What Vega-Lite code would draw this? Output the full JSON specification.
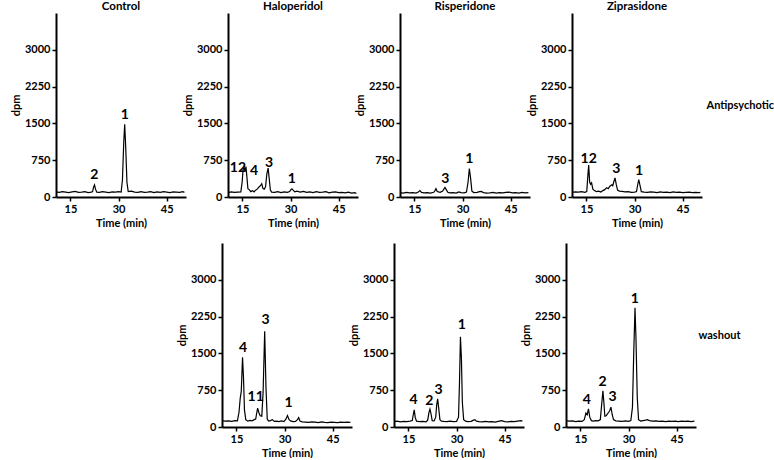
{
  "$schema": "https://vega.github.io/schema/vega-lite/v6.json",
  "description": "Radio-HPLC traces (dpm vs retention time) for control and antipsychotic-treated samples, with and without washout",
  "background": "white",
  "padding": {"left": 10, "top": 0, "right": 0, "bottom": 0},
  "data": {
    "values": [
      {"d":"C","c":"A","t":10.5,"v":105},{"d":"C","c":"A","t":11.5,"v":95},{"d":"C","c":"A","t":12.5,"v":110},{"d":"C","c":"A","t":13.5,"v":100},
      {"d":"C","c":"A","t":14.5,"v":90},{"d":"C","c":"A","t":15.5,"v":105},{"d":"C","c":"A","t":16.5,"v":115},{"d":"C","c":"A","t":17.5,"v":95},
      {"d":"C","c":"A","t":18.5,"v":100},{"d":"C","c":"A","t":19.5,"v":110},{"d":"C","c":"A","t":20.5,"v":90},{"d":"C","c":"A","t":21.5,"v":100},
      {"d":"C","c":"A","t":21.9,"v":110},{"d":"C","c":"A","t":22.2,"v":200},{"d":"C","c":"A","t":22.5,"v":245},{"d":"C","c":"A","t":22.8,"v":160},
      {"d":"C","c":"A","t":23.2,"v":100},{"d":"C","c":"A","t":24.0,"v":95},{"d":"C","c":"A","t":25.0,"v":110},{"d":"C","c":"A","t":26.0,"v":100},
      {"d":"C","c":"A","t":27.0,"v":90},{"d":"C","c":"A","t":28.0,"v":105},{"d":"C","c":"A","t":29.0,"v":100},{"d":"C","c":"A","t":30.0,"v":110},
      {"d":"C","c":"A","t":30.8,"v":100},{"d":"C","c":"A","t":31.2,"v":350},{"d":"C","c":"A","t":31.6,"v":1100},{"d":"C","c":"A","t":31.9,"v":1480},
      {"d":"C","c":"A","t":32.2,"v":1050},{"d":"C","c":"A","t":32.6,"v":300},{"d":"C","c":"A","t":33.0,"v":110},{"d":"C","c":"A","t":34.0,"v":120},
      {"d":"C","c":"A","t":35.0,"v":100},{"d":"C","c":"A","t":36.0,"v":95},{"d":"C","c":"A","t":37.0,"v":110},{"d":"C","c":"A","t":38.0,"v":95},
      {"d":"C","c":"A","t":39.0,"v":100},{"d":"C","c":"A","t":40.0,"v":110},{"d":"C","c":"A","t":41.0,"v":90},{"d":"C","c":"A","t":42.0,"v":105},
      {"d":"C","c":"A","t":43.0,"v":95},{"d":"C","c":"A","t":44.0,"v":110},{"d":"C","c":"A","t":45.0,"v":100},{"d":"C","c":"A","t":46.0,"v":90},
      {"d":"C","c":"A","t":47.0,"v":105},{"d":"C","c":"A","t":48.0,"v":100},{"d":"C","c":"A","t":49.0,"v":95},{"d":"C","c":"A","t":50.0,"v":110},
      {"d":"C","c":"A","t":50.5,"v":95},

      {"d":"H","c":"A","t":10.5,"v":90},{"d":"H","c":"A","t":11.5,"v":105},{"d":"H","c":"A","t":12.5,"v":95},{"d":"H","c":"A","t":13.5,"v":100},
      {"d":"H","c":"A","t":14.5,"v":105},{"d":"H","c":"A","t":14.9,"v":300},{"d":"H","c":"A","t":15.2,"v":560},{"d":"H","c":"A","t":15.5,"v":610},
      {"d":"H","c":"A","t":15.8,"v":520},{"d":"H","c":"A","t":16.1,"v":620},{"d":"H","c":"A","t":16.4,"v":400},{"d":"H","c":"A","t":16.7,"v":170},
      {"d":"H","c":"A","t":17.1,"v":150},{"d":"H","c":"A","t":17.6,"v":110},{"d":"H","c":"A","t":18.1,"v":130},{"d":"H","c":"A","t":18.6,"v":105},
      {"d":"H","c":"A","t":19.1,"v":140},{"d":"H","c":"A","t":19.6,"v":160},{"d":"H","c":"A","t":20.1,"v":200},{"d":"H","c":"A","t":20.6,"v":230},
      {"d":"H","c":"A","t":21.0,"v":270},{"d":"H","c":"A","t":21.4,"v":170},{"d":"H","c":"A","t":21.8,"v":160},{"d":"H","c":"A","t":22.2,"v":210},
      {"d":"H","c":"A","t":22.6,"v":470},{"d":"H","c":"A","t":23.0,"v":590},{"d":"H","c":"A","t":23.3,"v":400},{"d":"H","c":"A","t":23.7,"v":140},
      {"d":"H","c":"A","t":24.1,"v":100},{"d":"H","c":"A","t":25.0,"v":95},{"d":"H","c":"A","t":26.0,"v":110},{"d":"H","c":"A","t":27.0,"v":90},
      {"d":"H","c":"A","t":28.0,"v":105},{"d":"H","c":"A","t":29.0,"v":95},{"d":"H","c":"A","t":29.7,"v":110},{"d":"H","c":"A","t":30.1,"v":150},
      {"d":"H","c":"A","t":30.4,"v":165},{"d":"H","c":"A","t":30.8,"v":140},{"d":"H","c":"A","t":31.3,"v":105},{"d":"H","c":"A","t":32.0,"v":120},
      {"d":"H","c":"A","t":33.0,"v":100},{"d":"H","c":"A","t":34.0,"v":115},{"d":"H","c":"A","t":35.0,"v":95},{"d":"H","c":"A","t":36.0,"v":105},
      {"d":"H","c":"A","t":37.0,"v":90},{"d":"H","c":"A","t":38.0,"v":110},{"d":"H","c":"A","t":39.0,"v":95},{"d":"H","c":"A","t":40.0,"v":100},
      {"d":"H","c":"A","t":41.0,"v":110},{"d":"H","c":"A","t":42.0,"v":85},{"d":"H","c":"A","t":43.0,"v":100},{"d":"H","c":"A","t":44.0,"v":105},
      {"d":"H","c":"A","t":45.0,"v":90},{"d":"H","c":"A","t":46.0,"v":95},{"d":"H","c":"A","t":47.0,"v":85},{"d":"H","c":"A","t":48.0,"v":100},
      {"d":"H","c":"A","t":49.0,"v":80},{"d":"H","c":"A","t":50.0,"v":90},{"d":"H","c":"A","t":50.5,"v":70},

      {"d":"R","c":"A","t":10.5,"v":90},{"d":"R","c":"A","t":11.5,"v":80},{"d":"R","c":"A","t":12.5,"v":95},{"d":"R","c":"A","t":13.5,"v":85},
      {"d":"R","c":"A","t":14.5,"v":90},{"d":"R","c":"A","t":15.5,"v":80},{"d":"R","c":"A","t":16.2,"v":100},{"d":"R","c":"A","t":16.7,"v":130},
      {"d":"R","c":"A","t":17.2,"v":95},{"d":"R","c":"A","t":18.0,"v":85},{"d":"R","c":"A","t":19.0,"v":90},{"d":"R","c":"A","t":20.0,"v":80},
      {"d":"R","c":"A","t":21.0,"v":95},{"d":"R","c":"A","t":21.4,"v":130},{"d":"R","c":"A","t":21.7,"v":170},{"d":"R","c":"A","t":22.1,"v":110},
      {"d":"R","c":"A","t":23.0,"v":95},{"d":"R","c":"A","t":23.8,"v":120},{"d":"R","c":"A","t":24.5,"v":195},{"d":"R","c":"A","t":24.9,"v":150},
      {"d":"R","c":"A","t":25.4,"v":95},{"d":"R","c":"A","t":26.0,"v":85},{"d":"R","c":"A","t":27.0,"v":90},{"d":"R","c":"A","t":28.0,"v":80},
      {"d":"R","c":"A","t":28.8,"v":105},{"d":"R","c":"A","t":29.5,"v":90},{"d":"R","c":"A","t":30.5,"v":85},{"d":"R","c":"A","t":31.2,"v":100},
      {"d":"R","c":"A","t":31.7,"v":300},{"d":"R","c":"A","t":32.1,"v":580},{"d":"R","c":"A","t":32.5,"v":380},{"d":"R","c":"A","t":32.9,"v":120},
      {"d":"R","c":"A","t":33.5,"v":90},{"d":"R","c":"A","t":34.5,"v":95},{"d":"R","c":"A","t":35.3,"v":110},{"d":"R","c":"A","t":35.8,"v":115},
      {"d":"R","c":"A","t":36.5,"v":90},{"d":"R","c":"A","t":37.5,"v":80},{"d":"R","c":"A","t":38.5,"v":85},{"d":"R","c":"A","t":39.5,"v":95},
      {"d":"R","c":"A","t":40.5,"v":80},{"d":"R","c":"A","t":41.5,"v":90},{"d":"R","c":"A","t":42.5,"v":85},{"d":"R","c":"A","t":43.5,"v":95},
      {"d":"R","c":"A","t":44.5,"v":100},{"d":"R","c":"A","t":45.5,"v":85},{"d":"R","c":"A","t":46.5,"v":90},{"d":"R","c":"A","t":47.5,"v":80},
      {"d":"R","c":"A","t":48.5,"v":95},{"d":"R","c":"A","t":49.5,"v":85},{"d":"R","c":"A","t":50.5,"v":90},

      {"d":"Z","c":"A","t":10.5,"v":95},{"d":"Z","c":"A","t":11.5,"v":105},{"d":"Z","c":"A","t":12.5,"v":100},{"d":"Z","c":"A","t":13.5,"v":110},
      {"d":"Z","c":"A","t":14.5,"v":95},{"d":"Z","c":"A","t":15.1,"v":110},{"d":"Z","c":"A","t":15.4,"v":400},{"d":"Z","c":"A","t":15.7,"v":650},
      {"d":"Z","c":"A","t":16.0,"v":300},{"d":"Z","c":"A","t":16.3,"v":260},{"d":"Z","c":"A","t":16.6,"v":290},{"d":"Z","c":"A","t":17.0,"v":160},
      {"d":"Z","c":"A","t":17.5,"v":130},{"d":"Z","c":"A","t":18.1,"v":110},{"d":"Z","c":"A","t":18.8,"v":120},{"d":"Z","c":"A","t":19.5,"v":100},
      {"d":"Z","c":"A","t":20.1,"v":130},{"d":"Z","c":"A","t":20.7,"v":150},{"d":"Z","c":"A","t":21.3,"v":190},{"d":"Z","c":"A","t":21.8,"v":170},
      {"d":"Z","c":"A","t":22.3,"v":220},{"d":"Z","c":"A","t":22.9,"v":250},{"d":"Z","c":"A","t":23.2,"v":230},{"d":"Z","c":"A","t":23.6,"v":330},
      {"d":"Z","c":"A","t":23.9,"v":390},{"d":"Z","c":"A","t":24.3,"v":250},{"d":"Z","c":"A","t":24.7,"v":140},{"d":"Z","c":"A","t":25.3,"v":120},
      {"d":"Z","c":"A","t":26.1,"v":115},{"d":"Z","c":"A","t":27.0,"v":105},{"d":"Z","c":"A","t":28.0,"v":110},{"d":"Z","c":"A","t":29.0,"v":95},
      {"d":"Z","c":"A","t":30.0,"v":100},{"d":"Z","c":"A","t":30.6,"v":110},{"d":"Z","c":"A","t":31.0,"v":260},{"d":"Z","c":"A","t":31.3,"v":355},
      {"d":"Z","c":"A","t":31.7,"v":230},{"d":"Z","c":"A","t":32.1,"v":110},{"d":"Z","c":"A","t":33.0,"v":100},{"d":"Z","c":"A","t":34.0,"v":95},
      {"d":"Z","c":"A","t":35.0,"v":105},{"d":"Z","c":"A","t":36.0,"v":100},{"d":"Z","c":"A","t":37.0,"v":90},{"d":"Z","c":"A","t":38.0,"v":105},
      {"d":"Z","c":"A","t":39.0,"v":95},{"d":"Z","c":"A","t":40.0,"v":100},{"d":"Z","c":"A","t":41.0,"v":90},{"d":"Z","c":"A","t":42.0,"v":105},
      {"d":"Z","c":"A","t":43.0,"v":95},{"d":"Z","c":"A","t":44.0,"v":100},{"d":"Z","c":"A","t":45.0,"v":90},{"d":"Z","c":"A","t":46.0,"v":95},
      {"d":"Z","c":"A","t":47.0,"v":100},{"d":"Z","c":"A","t":48.0,"v":90},{"d":"Z","c":"A","t":49.0,"v":95},{"d":"Z","c":"A","t":50.0,"v":90},
      {"d":"Z","c":"A","t":50.5,"v":95},

      {"d":"H","c":"W","t":10.5,"v":130},{"d":"H","c":"W","t":11.5,"v":120},{"d":"H","c":"W","t":12.5,"v":125},{"d":"H","c":"W","t":13.5,"v":115},
      {"d":"H","c":"W","t":14.5,"v":130},{"d":"H","c":"W","t":15.3,"v":125},{"d":"H","c":"W","t":15.8,"v":300},{"d":"H","c":"W","t":16.2,"v":600},
      {"d":"H","c":"W","t":16.5,"v":720},{"d":"H","c":"W","t":16.9,"v":1420},{"d":"H","c":"W","t":17.2,"v":1000},{"d":"H","c":"W","t":17.5,"v":350},
      {"d":"H","c":"W","t":17.9,"v":150},{"d":"H","c":"W","t":18.5,"v":120},{"d":"H","c":"W","t":19.2,"v":135},{"d":"H","c":"W","t":19.9,"v":125},
      {"d":"H","c":"W","t":20.5,"v":150},{"d":"H","c":"W","t":21.0,"v":160},{"d":"H","c":"W","t":21.3,"v":280},{"d":"H","c":"W","t":21.6,"v":385},
      {"d":"H","c":"W","t":22.0,"v":290},{"d":"H","c":"W","t":22.4,"v":230},{"d":"H","c":"W","t":22.9,"v":220},{"d":"H","c":"W","t":23.3,"v":700},
      {"d":"H","c":"W","t":23.8,"v":1950},{"d":"H","c":"W","t":24.2,"v":800},{"d":"H","c":"W","t":24.6,"v":160},{"d":"H","c":"W","t":25.0,"v":120},
      {"d":"H","c":"W","t":25.6,"v":130},{"d":"H","c":"W","t":26.2,"v":150},{"d":"H","c":"W","t":26.8,"v":115},{"d":"H","c":"W","t":27.5,"v":120},
      {"d":"H","c":"W","t":28.2,"v":110},{"d":"H","c":"W","t":29.0,"v":125},{"d":"H","c":"W","t":29.8,"v":110},{"d":"H","c":"W","t":30.4,"v":160},
      {"d":"H","c":"W","t":30.9,"v":235},{"d":"H","c":"W","t":31.4,"v":150},{"d":"H","c":"W","t":32.0,"v":120},{"d":"H","c":"W","t":32.7,"v":110},
      {"d":"H","c":"W","t":33.4,"v":115},{"d":"H","c":"W","t":34.0,"v":150},{"d":"H","c":"W","t":34.4,"v":190},{"d":"H","c":"W","t":34.8,"v":120},
      {"d":"H","c":"W","t":35.5,"v":105},{"d":"H","c":"W","t":36.5,"v":100},{"d":"H","c":"W","t":37.5,"v":95},{"d":"H","c":"W","t":38.5,"v":105},
      {"d":"H","c":"W","t":39.5,"v":100},{"d":"H","c":"W","t":40.5,"v":90},{"d":"H","c":"W","t":41.5,"v":105},{"d":"H","c":"W","t":42.5,"v":95},
      {"d":"H","c":"W","t":43.5,"v":90},{"d":"H","c":"W","t":44.5,"v":100},{"d":"H","c":"W","t":45.5,"v":95},{"d":"H","c":"W","t":46.5,"v":90},
      {"d":"H","c":"W","t":47.5,"v":100},{"d":"H","c":"W","t":48.5,"v":95},{"d":"H","c":"W","t":49.5,"v":100},{"d":"H","c":"W","t":50.5,"v":95},

      {"d":"R","c":"W","t":10.5,"v":110},{"d":"R","c":"W","t":11.5,"v":120},{"d":"R","c":"W","t":12.5,"v":105},{"d":"R","c":"W","t":13.5,"v":115},
      {"d":"R","c":"W","t":14.5,"v":110},{"d":"R","c":"W","t":15.5,"v":120},{"d":"R","c":"W","t":16.2,"v":130},{"d":"R","c":"W","t":16.5,"v":250},
      {"d":"R","c":"W","t":16.8,"v":350},{"d":"R","c":"W","t":17.1,"v":200},{"d":"R","c":"W","t":17.5,"v":120},{"d":"R","c":"W","t":18.5,"v":110},
      {"d":"R","c":"W","t":19.5,"v":115},{"d":"R","c":"W","t":20.5,"v":105},{"d":"R","c":"W","t":21.0,"v":140},{"d":"R","c":"W","t":21.4,"v":300},
      {"d":"R","c":"W","t":21.7,"v":365},{"d":"R","c":"W","t":22.0,"v":280},{"d":"R","c":"W","t":22.4,"v":130},{"d":"R","c":"W","t":23.0,"v":125},
      {"d":"R","c":"W","t":23.5,"v":200},{"d":"R","c":"W","t":23.8,"v":450},{"d":"R","c":"W","t":24.1,"v":575},{"d":"R","c":"W","t":24.4,"v":400},
      {"d":"R","c":"W","t":24.8,"v":150},{"d":"R","c":"W","t":25.3,"v":120},{"d":"R","c":"W","t":26.0,"v":115},{"d":"R","c":"W","t":27.0,"v":110},
      {"d":"R","c":"W","t":28.0,"v":120},{"d":"R","c":"W","t":29.0,"v":110},{"d":"R","c":"W","t":30.0,"v":115},{"d":"R","c":"W","t":30.6,"v":200},
      {"d":"R","c":"W","t":30.9,"v":900},{"d":"R","c":"W","t":31.2,"v":1840},{"d":"R","c":"W","t":31.5,"v":1400},{"d":"R","c":"W","t":31.8,"v":500},
      {"d":"R","c":"W","t":32.2,"v":150},{"d":"R","c":"W","t":32.8,"v":120},{"d":"R","c":"W","t":33.5,"v":110},{"d":"R","c":"W","t":34.5,"v":115},
      {"d":"R","c":"W","t":35.3,"v":140},{"d":"R","c":"W","t":35.7,"v":150},{"d":"R","c":"W","t":36.2,"v":120},{"d":"R","c":"W","t":37.0,"v":110},
      {"d":"R","c":"W","t":38.0,"v":105},{"d":"R","c":"W","t":39.0,"v":115},{"d":"R","c":"W","t":40.0,"v":105},{"d":"R","c":"W","t":41.0,"v":110},
      {"d":"R","c":"W","t":42.0,"v":100},{"d":"R","c":"W","t":43.0,"v":115},{"d":"R","c":"W","t":44.0,"v":130},{"d":"R","c":"W","t":45.0,"v":110},
      {"d":"R","c":"W","t":46.0,"v":105},{"d":"R","c":"W","t":47.0,"v":115},{"d":"R","c":"W","t":48.0,"v":110},{"d":"R","c":"W","t":49.0,"v":120},
      {"d":"R","c":"W","t":50.0,"v":130},{"d":"R","c":"W","t":50.5,"v":120},

      {"d":"Z","c":"W","t":10.5,"v":130},{"d":"Z","c":"W","t":11.5,"v":120},{"d":"Z","c":"W","t":12.5,"v":125},{"d":"Z","c":"W","t":13.5,"v":110},
      {"d":"Z","c":"W","t":14.5,"v":120},{"d":"Z","c":"W","t":15.5,"v":115},{"d":"Z","c":"W","t":16.2,"v":150},{"d":"Z","c":"W","t":16.7,"v":285},
      {"d":"Z","c":"W","t":17.1,"v":250},{"d":"Z","c":"W","t":17.5,"v":370},{"d":"Z","c":"W","t":17.9,"v":200},{"d":"Z","c":"W","t":18.4,"v":130},
      {"d":"Z","c":"W","t":19.0,"v":120},{"d":"Z","c":"W","t":19.8,"v":130},{"d":"Z","c":"W","t":20.5,"v":125},{"d":"Z","c":"W","t":21.2,"v":150},
      {"d":"Z","c":"W","t":21.6,"v":450},{"d":"Z","c":"W","t":22.0,"v":740},{"d":"Z","c":"W","t":22.3,"v":500},{"d":"Z","c":"W","t":22.6,"v":220},
      {"d":"Z","c":"W","t":23.0,"v":230},{"d":"Z","c":"W","t":23.8,"v":300},{"d":"Z","c":"W","t":24.1,"v":330},{"d":"Z","c":"W","t":24.5,"v":405},
      {"d":"Z","c":"W","t":24.9,"v":250},{"d":"Z","c":"W","t":25.3,"v":150},{"d":"Z","c":"W","t":26.0,"v":125},{"d":"Z","c":"W","t":27.0,"v":120},
      {"d":"Z","c":"W","t":28.0,"v":115},{"d":"Z","c":"W","t":29.0,"v":125},{"d":"Z","c":"W","t":30.0,"v":115},{"d":"Z","c":"W","t":30.7,"v":130},
      {"d":"Z","c":"W","t":31.2,"v":400},{"d":"Z","c":"W","t":31.6,"v":1500},{"d":"Z","c":"W","t":32.0,"v":2430},{"d":"Z","c":"W","t":32.3,"v":1800},
      {"d":"Z","c":"W","t":32.7,"v":600},{"d":"Z","c":"W","t":33.1,"v":150},{"d":"Z","c":"W","t":33.8,"v":120},{"d":"Z","c":"W","t":34.5,"v":130},
      {"d":"Z","c":"W","t":35.3,"v":140},{"d":"Z","c":"W","t":35.8,"v":150},{"d":"Z","c":"W","t":36.5,"v":130},{"d":"Z","c":"W","t":37.5,"v":120},
      {"d":"Z","c":"W","t":38.5,"v":125},{"d":"Z","c":"W","t":39.5,"v":115},{"d":"Z","c":"W","t":40.5,"v":120},{"d":"Z","c":"W","t":41.5,"v":110},
      {"d":"Z","c":"W","t":42.5,"v":120},{"d":"Z","c":"W","t":43.5,"v":115},{"d":"Z","c":"W","t":44.5,"v":120},{"d":"Z","c":"W","t":45.5,"v":110},
      {"d":"Z","c":"W","t":46.5,"v":120},{"d":"Z","c":"W","t":47.5,"v":115},{"d":"Z","c":"W","t":48.5,"v":120},{"d":"Z","c":"W","t":49.5,"v":110},
      {"d":"Z","c":"W","t":50.5,"v":120},

      {"d":"C","c":"A","t":22.4,"v":443,"l":"2"},{"d":"C","c":"A","t":31.9,"v":1667,"l":"1"},
      {"d":"H","c":"A","t":13.6,"v":590,"l":"12"},{"d":"H","c":"A","t":18.6,"v":540,"l":"4"},{"d":"H","c":"A","t":23.3,"v":697,"l":"3"},{"d":"H","c":"A","t":30.4,"v":369,"l":"1"},
      {"d":"R","c":"A","t":24.6,"v":375,"l":"3"},{"d":"R","c":"A","t":32.1,"v":779,"l":"1"},
      {"d":"Z","c":"A","t":15.7,"v":779,"l":"12"},{"d":"Z","c":"A","t":24.3,"v":574,"l":"3"},{"d":"Z","c":"A","t":31.4,"v":525,"l":"1"},
      {"d":"H","c":"W","t":17.1,"v":1600,"l":"4"},{"d":"H","c":"W","t":21.0,"v":608,"l":"11"},{"d":"H","c":"W","t":24.1,"v":2189,"l":"3"},{"d":"H","c":"W","t":31.2,"v":486,"l":"1"},
      {"d":"R","c":"W","t":16.6,"v":553,"l":"4"},{"d":"R","c":"W","t":21.5,"v":540,"l":"2"},{"d":"R","c":"W","t":24.4,"v":756,"l":"3"},{"d":"R","c":"W","t":31.6,"v":2074,"l":"1"},
      {"d":"Z","c":"W","t":17.0,"v":553,"l":"4"},{"d":"Z","c":"W","t":21.9,"v":925,"l":"2"},{"d":"Z","c":"W","t":25.0,"v":620,"l":"3"},{"d":"Z","c":"W","t":31.9,"v":2615,"l":"1"}
    ]
  },
  "spacing": 15,
  "vconcat": [
    {
      "bounds": "flush",
      "spacing": 42,
      "hconcat": [
        {
          "title": "Control",
          "width": 130, "height": 184,
          "transform": [{"filter": "datum.d == 'C' && datum.c == 'A'"}],
          "encoding": {
            "x": {"field": "t", "type": "quantitative", "scale": {"domain": [10.5, 51], "nice": false, "zero": false}, "axis": {"values": [15, 30, 45], "title": "Time (min)"}},
            "y": {"field": "v", "type": "quantitative", "scale": {"domain": [0, 3750], "nice": false}, "axis": {"values": [0, 750, 1500, 2250, 3000], "format": "d", "title": "dpm"}}
          },
          "layer": [
            {"transform": [{"filter": "datum.l == null"}], "mark": {"type": "line", "color": "black", "strokeWidth": 1.2}},
            {"transform": [{"filter": "datum.l != null"}], "mark": {"type": "text", "fontSize": 14, "fontWeight": "bold", "font": "Lato", "color": "black", "baseline": "middle"}, "encoding": {"text": {"field": "l", "type": "nominal"}}}
          ]
        },
        {
          "title": "Haloperidol",
          "width": 130, "height": 184,
          "transform": [{"filter": "datum.d == 'H' && datum.c == 'A'"}],
          "encoding": {
            "x": {"field": "t", "type": "quantitative", "scale": {"domain": [10.5, 51], "nice": false, "zero": false}, "axis": {"values": [15, 30, 45], "title": "Time (min)"}},
            "y": {"field": "v", "type": "quantitative", "scale": {"domain": [0, 3750], "nice": false}, "axis": {"values": [0, 750, 1500, 2250, 3000], "format": "d", "title": "dpm"}}
          },
          "layer": [
            {"transform": [{"filter": "datum.l == null"}], "mark": {"type": "line", "color": "black", "strokeWidth": 1.2}},
            {"transform": [{"filter": "datum.l != null"}], "mark": {"type": "text", "fontSize": 14, "fontWeight": "bold", "font": "Lato", "color": "black", "baseline": "middle"}, "encoding": {"text": {"field": "l", "type": "nominal"}}}
          ]
        },
        {
          "title": "Risperidone",
          "width": 130, "height": 184,
          "transform": [{"filter": "datum.d == 'R' && datum.c == 'A'"}],
          "encoding": {
            "x": {"field": "t", "type": "quantitative", "scale": {"domain": [10.5, 51], "nice": false, "zero": false}, "axis": {"values": [15, 30, 45], "title": "Time (min)"}},
            "y": {"field": "v", "type": "quantitative", "scale": {"domain": [0, 3750], "nice": false}, "axis": {"values": [0, 750, 1500, 2250, 3000], "format": "d", "title": "dpm"}}
          },
          "layer": [
            {"transform": [{"filter": "datum.l == null"}], "mark": {"type": "line", "color": "black", "strokeWidth": 1.2}},
            {"transform": [{"filter": "datum.l != null"}], "mark": {"type": "text", "fontSize": 14, "fontWeight": "bold", "font": "Lato", "color": "black", "baseline": "middle"}, "encoding": {"text": {"field": "l", "type": "nominal"}}}
          ]
        },
        {
          "title": "Ziprasidone",
          "width": 130, "height": 184,
          "transform": [{"filter": "datum.d == 'Z' && datum.c == 'A'"}],
          "encoding": {
            "x": {"field": "t", "type": "quantitative", "scale": {"domain": [10.5, 51], "nice": false, "zero": false}, "axis": {"values": [15, 30, 45], "title": "Time (min)"}},
            "y": {"field": "v", "type": "quantitative", "scale": {"domain": [0, 3750], "nice": false}, "axis": {"values": [0, 750, 1500, 2250, 3000], "format": "d", "title": "dpm"}}
          },
          "resolve": {"axis": {"y": "independent"}},
          "layer": [
            {"transform": [{"filter": "datum.l == null"}], "mark": {"type": "line", "color": "black", "strokeWidth": 1.2}},
            {
              "transform": [{"filter": "datum.l != null"}],
              "mark": {"type": "text", "fontSize": 14, "fontWeight": "bold", "font": "Lato", "color": "black", "baseline": "middle"},
              "encoding": {
                "text": {"field": "l", "type": "nominal"},
                "y": {"field": "v", "type": "quantitative", "scale": {"domain": [0, 3750], "nice": false}, "axis": {"orient": "right", "title": "Antipsychotic", "titleAngle": 0, "titleAlign": "left", "titleBaseline": "middle", "titlePadding": 4, "titleFontSize": 11, "labels": false, "ticks": false, "domain": false}}
              }
            }
          ]
        }
      ]
    },
    {
      "bounds": "flush",
      "spacing": 42,
      "hconcat": [
        {
          "width": 124, "height": 184,
          "transform": [{"filter": "false"}],
          "mark": {"type": "point", "opacity": 0},
          "encoding": {}
        },
        {
          "width": 130, "height": 184,
          "transform": [{"filter": "datum.d == 'H' && datum.c == 'W'"}],
          "encoding": {
            "x": {"field": "t", "type": "quantitative", "scale": {"domain": [10.5, 51], "nice": false, "zero": false}, "axis": {"values": [15, 30, 45], "title": "Time (min)"}},
            "y": {"field": "v", "type": "quantitative", "scale": {"domain": [0, 3750], "nice": false}, "axis": {"values": [0, 750, 1500, 2250, 3000], "format": "d", "title": "dpm"}}
          },
          "layer": [
            {"transform": [{"filter": "datum.l == null"}], "mark": {"type": "line", "color": "black", "strokeWidth": 1.2}},
            {"transform": [{"filter": "datum.l != null"}], "mark": {"type": "text", "fontSize": 14, "fontWeight": "bold", "font": "Lato", "color": "black", "baseline": "middle"}, "encoding": {"text": {"field": "l", "type": "nominal"}}}
          ]
        },
        {
          "width": 130, "height": 184,
          "transform": [{"filter": "datum.d == 'R' && datum.c == 'W'"}],
          "encoding": {
            "x": {"field": "t", "type": "quantitative", "scale": {"domain": [10.5, 51], "nice": false, "zero": false}, "axis": {"values": [15, 30, 45], "title": "Time (min)"}},
            "y": {"field": "v", "type": "quantitative", "scale": {"domain": [0, 3750], "nice": false}, "axis": {"values": [0, 750, 1500, 2250, 3000], "format": "d", "title": "dpm"}}
          },
          "layer": [
            {"transform": [{"filter": "datum.l == null"}], "mark": {"type": "line", "color": "black", "strokeWidth": 1.2}},
            {"transform": [{"filter": "datum.l != null"}], "mark": {"type": "text", "fontSize": 14, "fontWeight": "bold", "font": "Lato", "color": "black", "baseline": "middle"}, "encoding": {"text": {"field": "l", "type": "nominal"}}}
          ]
        },
        {
          "width": 130, "height": 184,
          "transform": [{"filter": "datum.d == 'Z' && datum.c == 'W'"}],
          "encoding": {
            "x": {"field": "t", "type": "quantitative", "scale": {"domain": [10.5, 51], "nice": false, "zero": false}, "axis": {"values": [15, 30, 45], "title": "Time (min)"}},
            "y": {"field": "v", "type": "quantitative", "scale": {"domain": [0, 3750], "nice": false}, "axis": {"values": [0, 750, 1500, 2250, 3000], "format": "d", "title": "dpm"}}
          },
          "resolve": {"axis": {"y": "independent"}},
          "layer": [
            {"transform": [{"filter": "datum.l == null"}], "mark": {"type": "line", "color": "black", "strokeWidth": 1.2}},
            {
              "transform": [{"filter": "datum.l != null"}],
              "mark": {"type": "text", "fontSize": 14, "fontWeight": "bold", "font": "Lato", "color": "black", "baseline": "middle"},
              "encoding": {
                "text": {"field": "l", "type": "nominal"},
                "y": {"field": "v", "type": "quantitative", "scale": {"domain": [0, 3750], "nice": false}, "axis": {"orient": "right", "title": "washout", "titleAngle": 0, "titleAlign": "left", "titleBaseline": "middle", "titlePadding": 2, "titleFontSize": 11, "labels": false, "ticks": false, "domain": false}}
              }
            }
          ]
        }
      ]
    }
  ],
  "config": {
    "view": {"stroke": null},
    "title": {"font": "Lato", "fontWeight": "bold", "fontSize": 11.5, "color": "black", "offset": 1},
    "axis": {
      "grid": false,
      "domainColor": "black",
      "domainWidth": 2,
      "tickColor": "black",
      "tickWidth": 1.5,
      "tickSize": 4,
      "labelFont": "Lato",
      "labelFontWeight": "bold",
      "labelFontSize": 11,
      "labelColor": "black",
      "titleFont": "Lato",
      "titleFontWeight": "bold",
      "titleFontSize": 11,
      "titleColor": "black",
      "titlePadding": 3
    }
  }
}
